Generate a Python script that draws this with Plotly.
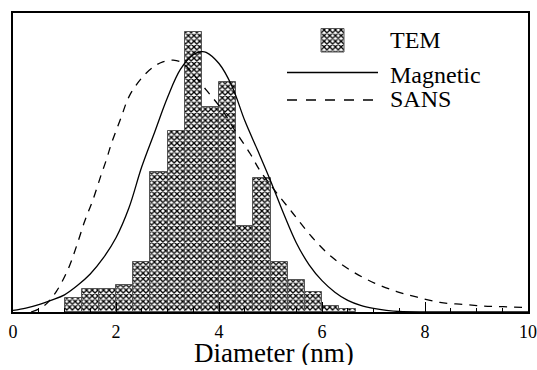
import plotly.graph_objects as go

# ---- data ----
bin_left = [1.0, 1.333, 1.667, 2.0, 2.333, 2.667, 3.0, 3.333, 3.667, 4.0,
            4.333, 4.667, 5.0, 5.333, 5.667, 6.0, 6.333]
tem_counts = [4.3, 6.9, 6.9, 8.1, 15.2, 42.4, 55.0, 85.0, 62.2, 69.7,
              26.2, 40.6, 15.2, 9.7, 6.0, 1.8, 0.9]
bin_width = 1/3

mag_x = [0.0, 0.25, 0.5, 0.75, 1.0, 1.25, 1.5, 1.75, 2.0, 2.25, 2.5, 2.75,
         3.0, 3.25, 3.5, 3.66, 3.75, 4.0, 4.25, 4.5, 4.75, 5.0, 5.25, 5.5,
         5.75, 6.0, 6.25, 6.5, 6.75, 7.0, 7.25, 7.5, 8.0, 10.0]
mag_y = [0.5, 1.2, 2.2, 3.6, 5.2, 8.0, 11.5, 16.3, 22.5, 31.5, 44.0, 54.5,
         65.0, 73.5, 78.0, 78.9, 78.7, 75.3, 68.5, 58.0, 49.0, 39.8, 30.0, 21.0,
         14.3, 9.5, 6.0, 3.5, 2.0, 1.1, 0.5, 0.15, 0.0, 0.0]

sans_x = [0.35, 0.6, 0.84, 1.07, 1.23, 1.39, 1.55, 1.71, 1.81, 1.91, 2.10,
          2.26, 2.52, 2.75, 2.91, 3.11, 3.30, 3.5, 3.75, 4.05, 4.31, 4.60,
          4.79, 5.0, 5.43, 5.80, 6.18, 6.60, 7.03, 7.45, 7.85, 8.29, 8.74,
          9.13, 9.52, 10.0]
sans_y = [0.0, 1.8, 6.2, 13.0, 19.8, 27.4, 33.9, 41.5, 46.0, 51.0, 59.0,
          65.5, 71.3, 74.5, 75.8, 76.3, 75.4, 72.0, 67.3, 61.5, 55.0, 48.1,
          43.0, 38.5, 30.0, 22.8, 16.8, 12.2, 8.7, 6.2, 4.5, 2.9, 2.3,
          1.8, 1.6, 1.3]

tick_vals = [0, 2, 4, 6, 8, 10]
tick_text = ["0", "2", "4", "6", "8", "10"]
legend_labels = ["TEM", "Magnetic", "SANS"]

FONT = "Liberation Serif"
W, H = 537, 370
L, T = 13, 13
PW, PH = 515, 299
R, B = W - L - PW, H - T - PH
YMAX = PH / 3.3

# window-pixel -> data helpers (legend placement only)
def px_x(p):
    return (p - L) / PW * 10

def px_y(p):
    return (T + PH - p) / PH * YMAX

pattern = dict(shape="x", size=4, solidity=0.55, fgcolor="black",
               bgcolor="white", fillmode="replace")

fig = go.Figure()
fig.add_trace(go.Bar(
    x=[b + bin_width / 2 for b in bin_left], y=tem_counts, width=bin_width,
    marker=dict(color="white", pattern=pattern,
                line=dict(color="#555555", width=1)),
    showlegend=False))
fig.add_trace(go.Scatter(x=mag_x, y=mag_y, mode="lines", line_shape="spline",
                         line=dict(color="black", width=1.3), showlegend=False))
fig.add_trace(go.Scatter(x=sans_x, y=sans_y, mode="lines", line_shape="spline",
                         line=dict(color="black", width=1.3, dash="8px,7px"),
                         showlegend=False))

# ---- hand-built legend ----
sx0, sx1, sy0, sy1 = px_x(321), px_x(344), px_y(52), px_y(28.5)
fig.add_trace(go.Scatter(x=[sx0, sx1, sx1, sx0, sx0], y=[sy0, sy0, sy1, sy1, sy0],
                         mode="lines", fill="toself", fillcolor="white",
                         fillpattern=pattern,
                         line=dict(color="#555555", width=1), showlegend=False,
                         hoverinfo="skip"))
fig.add_shape(type="line", x0=px_x(287), x1=px_x(378), y0=px_y(72.5), y1=px_y(72.5),
              line=dict(color="black", width=1.3))
fig.add_shape(type="line", x0=px_x(287), x1=px_x(378), y0=px_y(100), y1=px_y(100),
              line=dict(color="black", width=1.3, dash="10px,9px"))
for lab, yy in zip(legend_labels, [39.5, 74.5, 98.5]):
    fig.add_annotation(x=px_x(388), y=px_y(yy), text=lab, showarrow=False,
                       xanchor="left", yanchor="middle",
                       font=dict(family=FONT, size=24, color="black"))

fig.add_annotation(x=(274 - L) / PW, y=(T + PH - 353) / PH, xref="paper", yref="paper",
                   text="Diameter (nm)", showarrow=False, xanchor="center",
                   yanchor="middle", height=24, valign="middle",
                   font=dict(family=FONT, size=27, color="black"))

fig.update_layout(
    width=W, height=H, margin=dict(l=L, r=R, t=T, b=B, pad=0, autoexpand=False),
    paper_bgcolor="white", plot_bgcolor="white", bargap=0,
    font=dict(family=FONT, color="black"),
    xaxis=dict(range=[0, 10], tickvals=tick_vals, ticktext=tick_text,
               ticks="inside", ticklen=10, tickwidth=1, tickcolor="black",
               ticklabelstandoff=3,
               minor=dict(dtick=0.5, ticks="inside", ticklen=4, tickcolor="black"),
               showgrid=False, zeroline=False, showline=True, linecolor="black",
               linewidth=1.5, mirror=True, tickfont=dict(family=FONT, size=18)),
    yaxis=dict(range=[0, YMAX], showticklabels=False, ticks="", showgrid=False,
               zeroline=False, showline=True, linecolor="black", linewidth=1.5,
               mirror=True),
)
fig.write_html(
    "out.html",
    config={"displayModeBar": False},
    post_script=("document.body.style.margin='0';"
                 "document.body.style.overflow='hidden';"
                 "document.documentElement.style.overflow='hidden';"),
)
